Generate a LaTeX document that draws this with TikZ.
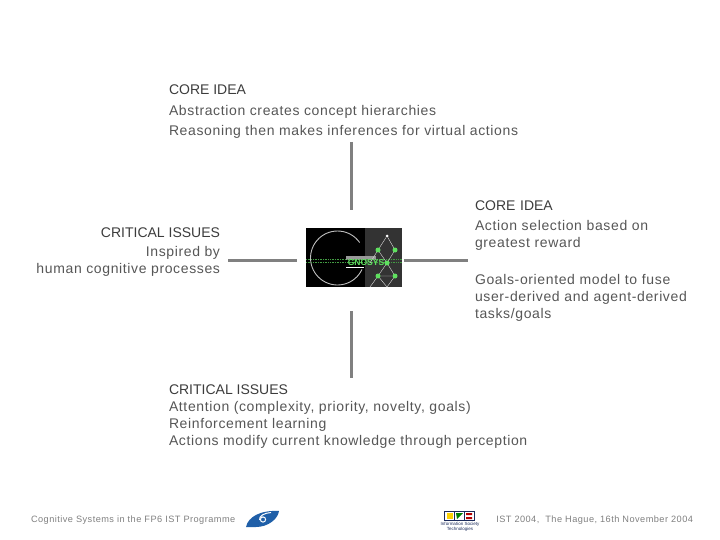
\documentclass[tikz,border=0pt]{standalone}
\usepackage{fontspec}
\setmainfont[LetterSpace=4.5]{Liberation Sans}
\newfontfamily\headfont{Liberation Sans}
\newfontfamily\footfont[LetterSpace=5]{Liberation Sans}
\usetikzlibrary{positioning}
\definecolor{labelgray}{HTML}{565656}
\definecolor{headgray}{HTML}{3C3C3C}
\definecolor{linegray}{HTML}{808080}
\definecolor{footgray}{HTML}{808080}
\definecolor{logogreen}{HTML}{5FE05F}
\definecolor{sixblue}{HTML}{1F5FA8}
\definecolor{istnavy}{HTML}{1A2A5A}
\newcommand{\headline}[1]{{\headfont\color{headgray}#1}}
\tikzset{
txt/.style={inner sep=0pt,outer sep=0pt,text=labelgray,align=left,font=\fontsize{14}{17}\selectfont},
foot/.style={inner sep=0pt,outer sep=0pt,text=footgray,font=\footfont\fontsize{9.2}{11}\selectfont},
spoke/.style={draw=linegray,line width=3pt},
hub/.style={fill=white,circle,inner sep=0pt,minimum size=3pt},
gnode/.style={fill=logogreen,circle,inner sep=0pt,minimum size=5pt},
istbox/.style={draw=istnavy,line width=.7pt,fill=white}
}
\begin{document}
\begin{tikzpicture}[x=1pt,y=-1pt]
\useasboundingbox (0,0) rectangle (720,540);
% text blocks
\node[txt,anchor=west,font=\fontsize{14}{20.2}\selectfont] (topidea) at (169,111.7)
 {\headline{CORE IDEA}\\Abstraction creates concept hierarchies\\Reasoning then makes inferences for virtual actions};
\node[txt,anchor=west,text width=235pt] (rightidea) at (475,226)
 {\headline{CORE IDEA}\\[3pt]Action selection based on\\greatest reward};
\node[txt,anchor=west,text width=235pt] (rightgoals) at (475,298)
 {Goals-oriented model to fuse\\user-derived and agent-derived\\tasks/goals};
\node[txt,anchor=east,align=right] (leftissues) at (220,252)
 {\headline{CRITICAL ISSUES}\\[2pt]Inspired by\\human cognitive processes};
\node[txt,anchor=west] (bottomissues) at (169,417)
 {\headline{CRITICAL ISSUES}\\Attention (complexity, priority, novelty, goals)\\Reinforcement learning\\Actions modify current knowledge through perception};
% logo in the middle
\fill[black] (306,228) rectangle (402,287);
\fill[black!80] (365,228) rectangle (402,287);
\draw[white!75!black,line width=.9pt,shift={(337.5,258)}] plot[domain=25:325,samples=50] ({27*cos(\x)},{27*sin(\x)});
\fill[white!60!black] (346,256) rectangle (376,260);
\draw[white,line width=.7pt] (346,267) -- (364,267);
\draw[logogreen!70!black,densely dotted,line width=.7pt] (306,259) -- (402,259) (306,262) -- (402,262);
\node[inner sep=0pt,text=logogreen,font=\headfont\bfseries\fontsize{8.5}{8.5}\selectfont] (logoname) at (366,262.5) {GNOSYS};
\node[hub] (n1) at (387,236) {};
\node[gnode] (n2) at (378,250) {};
\node[gnode] (n3) at (395,250) {};
\node[gnode] (n4) at (387,263) {};
\node[gnode] (n5) at (378,276) {};
\node[gnode] (n6) at (395,276) {};
\coordinate (n7) at (370,287);
\coordinate (n8) at (387,287);
\draw[white!85!black,line width=.4pt] (n1) -- (n2) -- (n4) -- (n6) -- (n8) -- (n5) -- (n4) -- (n3) -- (n1) (n5) -- (n6) (n5) -- (n7) (n2) -- (370,263);
% spokes
\coordinate (topa) at (351,142);
\coordinate (topb) at (351,210);
\coordinate (bota) at (351,311);
\coordinate (botb) at (351,378);
\coordinate (lefta) at (228,260);
\coordinate (leftb) at (297,260);
\coordinate (righta) at (404,260);
\coordinate (rightb) at (468,260);
\draw[spoke] (topa) -- (topb);
\draw[spoke] (bota) -- (botb);
\draw[spoke] (lefta) -- (leftb);
\draw[spoke] (righta) -- (rightb);
% footer
\node[foot,anchor=west] (footleft) at (31,520.5) {Cognitive Systems in the FP6 IST Programme};
\node[foot,anchor=east] (footright) at (693,520.5) {IST 2004,~ The Hague, 16th November 2004};
% six logo
\fill[sixblue] (246,527) .. controls (248,517) and (260,510) .. (279,511) .. controls (278,519) and (268,527) .. (256,527) -- cycle;
\draw[white,line width=1pt] (271,512.5) .. controls (264,513) and (259,516) .. (259.5,520);
\draw[white,line width=1pt] (263,519.5) circle (2.6pt);
% IST logo
\draw[istbox] (444,511) rectangle (474,520.5);
\fill[yellow!70!orange] (447,513) rectangle (453,519);
\fill[green!50!black] (456,513) -- (463,513) -- (457,519) -- cycle;
\fill[red!70!black] (466,513) rectangle (472,515) (466,517) rectangle (472,519);
\draw[istnavy,line width=.7pt] (454.5,511) -- (454.5,520.5) (464.5,511) -- (464.5,520.5);
\node[inner sep=0pt,align=center,text=istnavy,font=\headfont\fontsize{4.5}{4.8}\selectfont] (istname) at (460,527) {Information Society\\Technologies};
\end{tikzpicture}
\end{document}
